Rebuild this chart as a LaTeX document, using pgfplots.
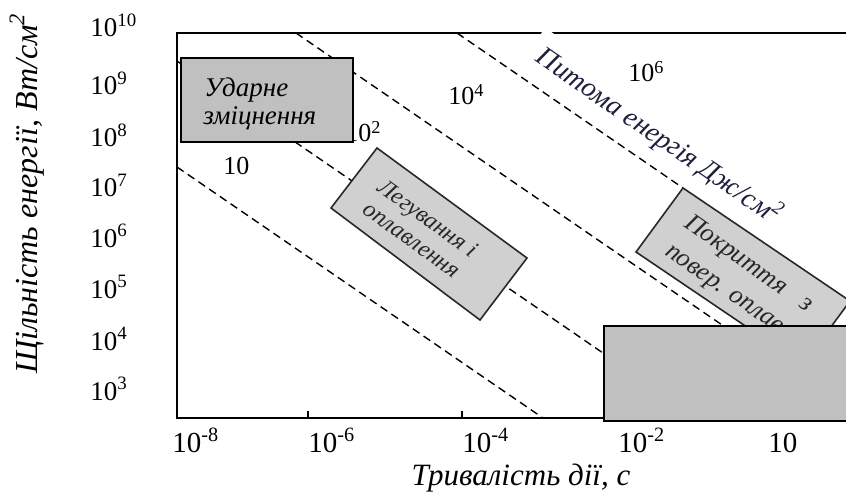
\documentclass[border=0pt]{standalone}
\usepackage{pgfplots}
\pgfplotsset{compat=1.18}
\usepackage{fontspec}
\setmainfont{Liberation Serif}
\definecolor{boxdark}{RGB}{192,192,192}
\definecolor{boxlight}{RGB}{208,208,208}
\definecolor{boxedge}{RGB}{40,40,40}
\definecolor{labcol}{RGB}{30,32,60}
\newcommand{\tfont}{\fontsize{13}{15}\selectfont}
\begin{document}
\begin{tikzpicture}
\begin{axis}[
  x=0.5pt, y=0.5pt,
  xmin=177, xmax=870, ymin=75, ymax=460,
  clip=false,
  axis line style={line width=0.9pt, black},
  tick pos=left,
  major tick length=3.5pt,
  xtick={177,308,462,618,768},
  xticklabels={\hspace*{-2.5pt}10\textsuperscript{-8}, 10\textsuperscript{-6}, 10\textsuperscript{-4}, 10\textsuperscript{-2}, 10},
  xticklabel style={anchor=base west, inner sep=0pt, yshift=-17pt, font=\fontsize{14.5}{16}\selectfont},
  xtick style={line width=0.9pt, black},
  ytick={93,143,195,246,296,346,398,456},
  yticklabels={10\textsuperscript{3}, 10\textsuperscript{4}, 10\textsuperscript{5}, 10\textsuperscript{6}, 10\textsuperscript{7}, 10\textsuperscript{8}, 10\textsuperscript{9}, 10\textsuperscript{10}},
  yticklabel style={anchor=base west, inner sep=0pt, xshift=-43.5pt, font=\fontsize{13.5}{15}\selectfont},
  ytick style={draw=none},
  xlabel={Тривалість дії, с},
  xlabel style={at={(axis description cs:0.4964,-0.1766)}, anchor=base, inner sep=0pt, font=\itshape\fontsize{15.5}{17}\selectfont},
  ylabel={Щільність енергії, Вт/см\textsuperscript{2}},
  ylabel style={at={(axis description cs:-0.2020,0.583)}, anchor=base, inner sep=0pt, font=\itshape\fontsize{16}{18}\selectfont},
]
% lines of constant specific energy
\addplot[black, line width=0.7pt, dash pattern=on 4pt off 2.5pt] coordinates {(177,326) (543,75)};
\addplot[black, line width=0.7pt, dash pattern=on 4pt off 2.5pt] coordinates {(177,432) (603,140)};
\addplot[black, line width=0.7pt, dash pattern=on 4pt off 2.5pt] coordinates {(296,460) (725,166)};
\addplot[black, line width=0.7pt, dash pattern=on 4pt off 2.5pt] coordinates {(457,460) (683,305)};
% label
\node[rotate=-34.5, fill=white, inner xsep=5pt, inner ysep=5pt, text=labcol, font=\itshape\fontsize{14}{16}\selectfont] at (axis cs:659,357) {Питома енергія Дж/см\textsuperscript{2}};
% energy values
\node[anchor=base west, inner sep=0pt, font=\tfont] at (axis cs:223,318) {10};
\node[anchor=base west, inner sep=0pt, font=\tfont] at (axis cs:345,351) {10\textsuperscript{2}};
\node[anchor=base west, inner sep=0pt, font=\tfont] at (axis cs:448,388) {10\textsuperscript{4}};
\node[anchor=base west, inner sep=0pt, font=\tfont] at (axis cs:628,411) {10\textsuperscript{6}};
% regions
\addplot[draw=black, line width=1pt, fill=boxdark] coordinates {(181,435) (353,435) (353,351) (181,351)} -- cycle;
\node[anchor=base west, inner sep=0pt, font=\itshape\fontsize{13.5}{15}\selectfont] at (axis cs:204,396) {Ударне};
\node[anchor=base west, inner sep=0pt, font=\itshape\fontsize{13.5}{15}\selectfont] at (axis cs:203,368) {зміцнення};
\addplot[draw=boxedge, line width=0.8pt, fill=boxlight] coordinates {(377,345) (527,235) (480,173) (331,285)} -- cycle;
\node[rotate=-36, anchor=base west, inner sep=0pt, text=boxedge, font=\itshape\fontsize{12}{14}\selectfont] at (axis cs:376,303) {Легування і};
\node[rotate=-36, anchor=base west, inner sep=0pt, text=boxedge, font=\itshape\fontsize{12}{14}\selectfont] at (axis cs:361,281) {оплавлення};
\addplot[draw=boxedge, line width=0.8pt, fill=boxlight] coordinates {(683,305) (850,192) (803,128) (636,241)} -- cycle;
\node[rotate=-35, anchor=base west, inner sep=0pt, text=boxedge, font=\itshape\fontsize{13}{15}\selectfont] at (axis cs:683,267) {Покриття\hspace{0.8em}з};
\node[rotate=-35, anchor=base west, inner sep=0pt, text=boxedge, font=\itshape\fontsize{13}{15}\selectfont] at (axis cs:664,239) {повер. оплавленням};
\addplot[draw=black, line width=1pt, fill=boxdark] coordinates {(604,167) (880,167) (880,72) (604,72)} -- cycle;
\coordinate (bbsw) at (axis cs:0,0);
\coordinate (bbne) at (axis cs:846,493);
\end{axis}
\pgfresetboundingbox
\useasboundingbox (bbsw) rectangle (bbne);
\end{tikzpicture}
\end{document}
